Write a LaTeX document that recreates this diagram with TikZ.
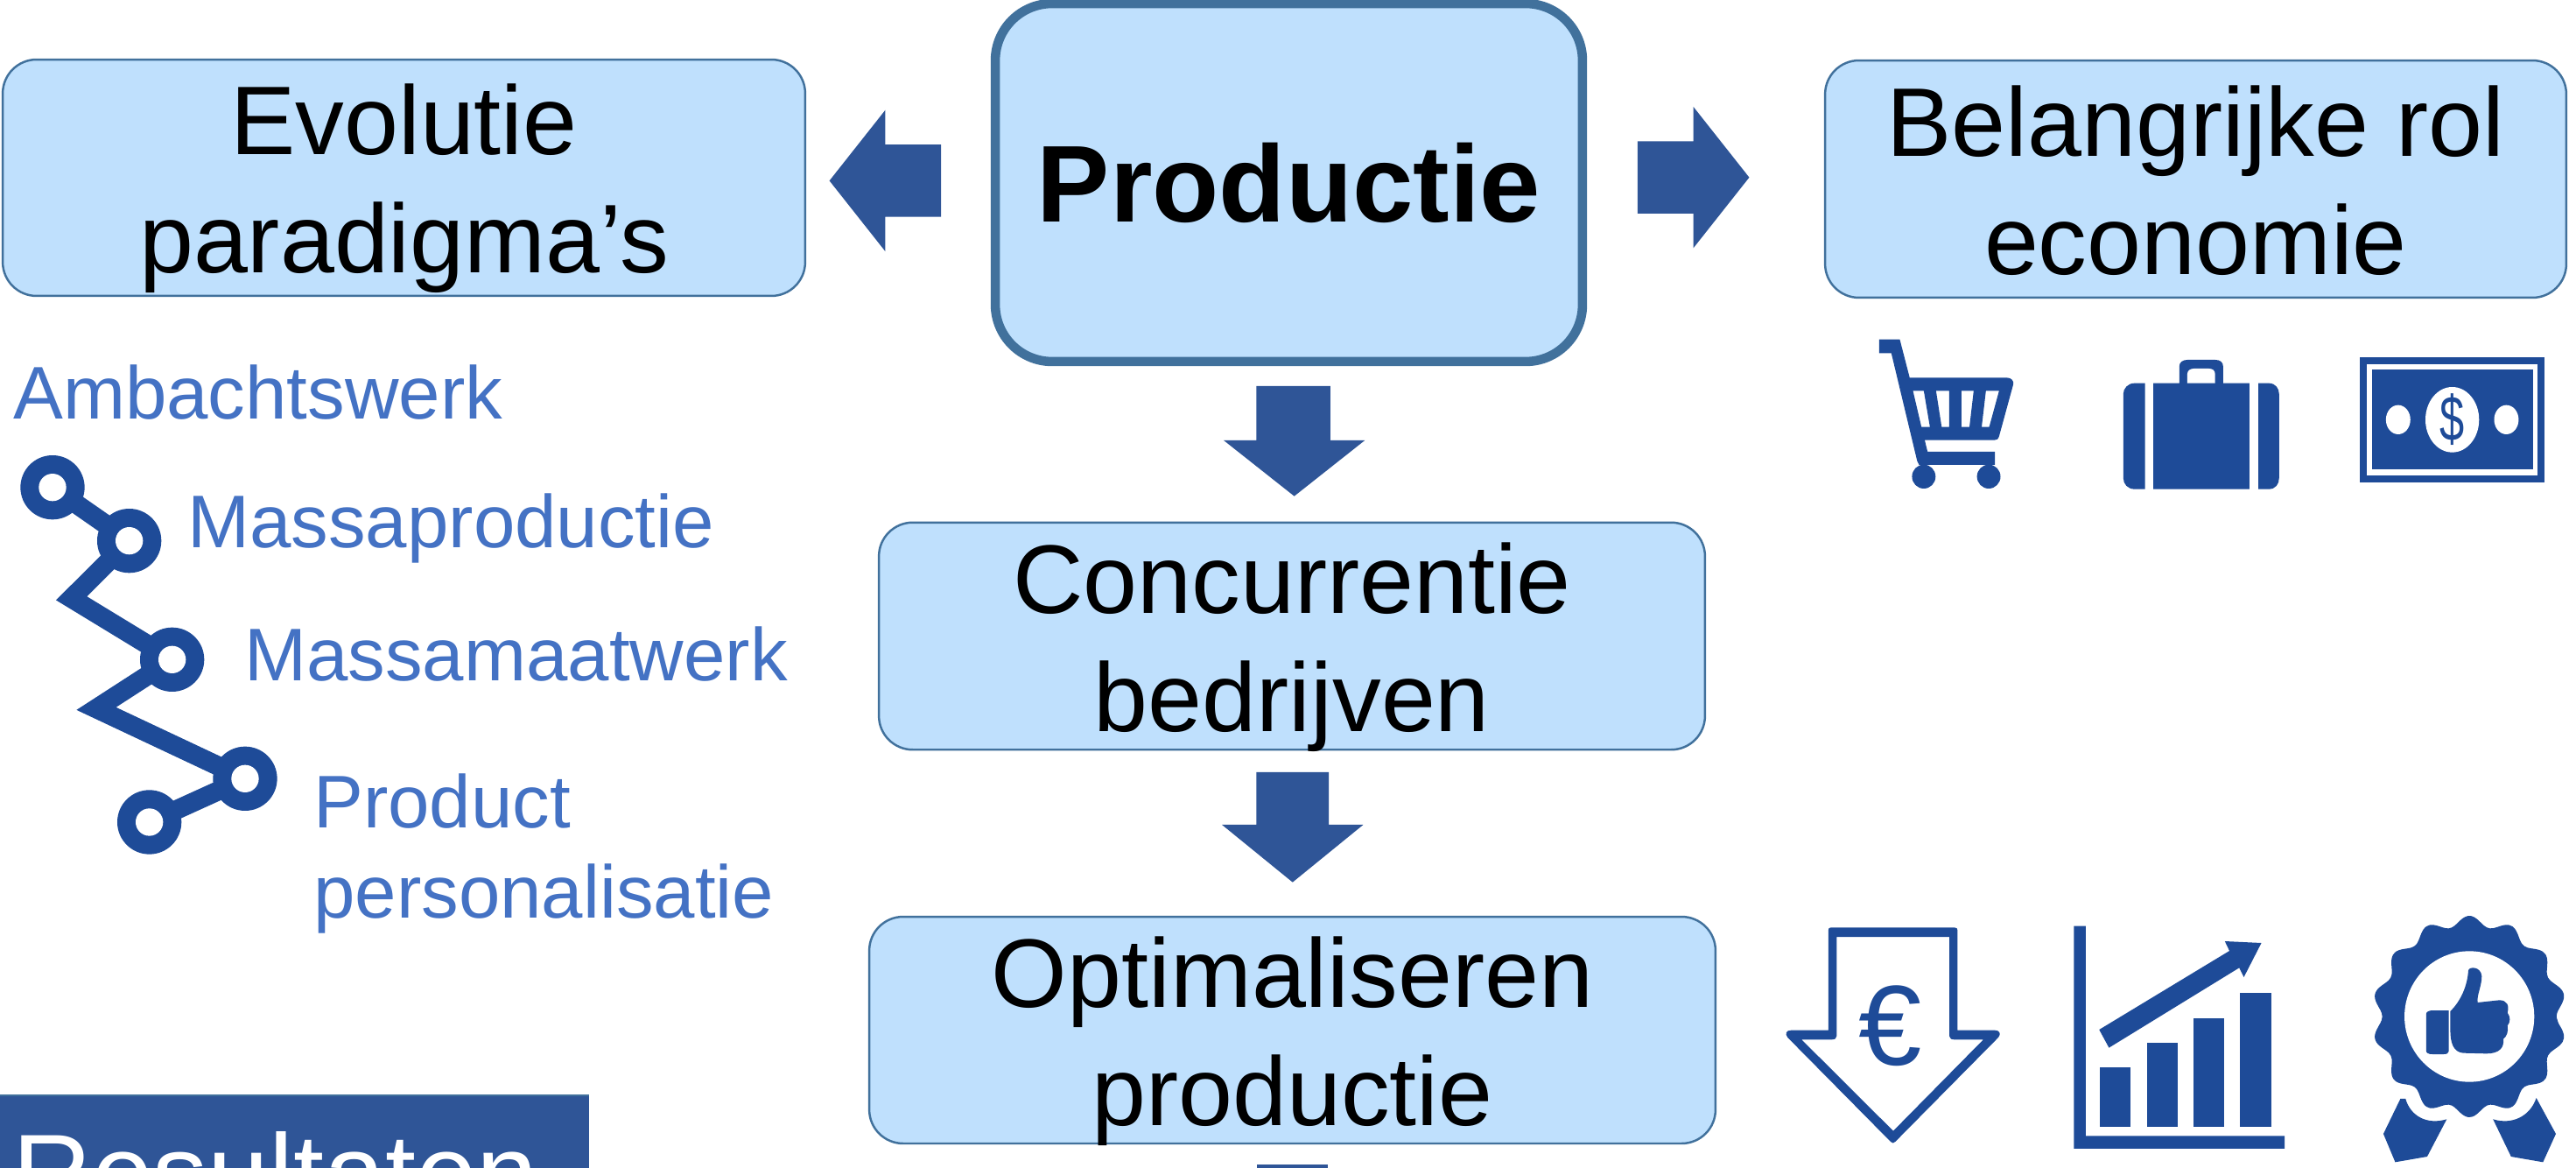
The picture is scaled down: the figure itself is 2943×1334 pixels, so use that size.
\documentclass[tikz,border=0pt]{standalone}
\usepackage{fontspec}
\setmainfont{Liberation Sans}
\definecolor{boxfill}{HTML}{BFE0FD}
\definecolor{boxline}{HTML}{41719C}
\definecolor{arrowblue}{HTML}{2F5597}
\definecolor{iconblue}{HTML}{1E4B98}
\definecolor{labelblue}{HTML}{4472C4}
\newcommand{\lineA}[1]{\rule{0pt}{54pt}\smash{#1}}
\newcommand{\lineB}[1]{\smash{#1}\rule[-6.8pt]{0pt}{6.8pt}}
\tikzset{
  boxnode/.style={draw=boxline,fill=boxfill,line width=1.4pt,rounded corners=22pt,inner sep=0pt,outer sep=0pt,align=center,
    text=black,font=\fontsize{63.4}{76.8}\selectfont},
  lab/.style={text=labelblue,anchor=base west,inner sep=0pt,font=\fontsize{48.5}{58}\selectfont},
  blockarrow/.style={fill=arrowblue,draw=none},
  icon/.style={fill=iconblue,draw=none},
  disp/.style={x=0.03754cm,y=-0.03754cm},
}
\begin{document}
\begin{tikzpicture}[x=0.02cm,y=-0.02cm]
\clip (0,0) rectangle (2943,1334);
\fill[white] (0,0) rectangle (2943,1334);

% boxes
\node[boxnode,minimum width=18.34cm,minimum height=5.4cm] (evol) at (461.5,203) {\lineA{Evolutie}\\\lineB{paradigma’s}};
\node[boxnode,line width=6pt,rounded corners=37pt,minimum width=13.42cm,minimum height=8.18cm,font=\fontsize{71}{80}\selectfont\bfseries] (prod) at (1472.5,208.5) {Productie};
\node[boxnode,minimum width=16.94cm,minimum height=5.42cm] (rol) at (2508.5,204.5) {\lineA{Belangrijke rol}\\\lineB{economie}};
\node[boxnode,minimum width=18.88cm,minimum height=5.19cm] (conc) at (1476,726.5) {\lineA{Concurrentie}\\\lineB{bedrijven}};
\node[boxnode,minimum width=19.34cm,minimum height=5.18cm] (opt) at (1476.5,1176.5) {\lineA{Optimaliseren}\\\lineB{productie}};

% bottom left banner
\fill[arrowblue] (0,1251) rectangle (673,1360);
\draw[boxline,line width=1.3pt] (0,1251) -- (673,1251);
\node[text=white,anchor=base west,inner sep=0pt,font=\fontsize{71.5}{80}\selectfont] (res) at (14,1383) {Resultaten};

% block arrows
\begin{scope}[disp]
\path[blockarrow] (505,110) -- (539,67) -- (539,88) -- (573,88) -- (573,132) -- (539,132) -- (539,153) -- cycle;
\path[blockarrow] (1065,108) -- (1031,65) -- (1031,86) -- (997,86) -- (997,130) -- (1031,130) -- (1031,151) -- cycle;
\path[blockarrow] (788,302) -- (745,268) -- (765,268) -- (765,235) -- (810,235) -- (810,268) -- (831,268) -- cycle;
\path[blockarrow] (787,537) -- (744,502) -- (765,502) -- (765,470) -- (809,470) -- (809,502) -- (830,502) -- cycle;
\end{scope}
\fill[arrowblue] (1436,1330) rectangle (1517,1340);

% labels
\node[lab] (l1) at (15,479) {Ambachtswerk};
\node[lab] (l2) at (214,625) {Massaproductie};
\node[lab] (l3) at (279,777) {Massamaatwerk};
\node[lab] (l4) at (358,945) {Product};
\node[lab] (l5) at (358,1048) {personalisatie};

% chain icon
\begin{scope}[shift={(0,520)},x=0.02cm/3,y=-0.02cm/3]
\draw[iconblue,line width=12.5pt,miter limit=10] (180,110) -- (443,293) -- (245,490) -- (590,700) -- (330,868) -- (840,1108) -- (512,1257);
\foreach \cx/\cy in {180/110,443/293,590/700,840/1108,512/1257}{
  \fill[iconblue] (\cx,\cy) circle[radius=110];
  \fill[white] (\cx,\cy) circle[radius=47];
}
\end{scope}

% cart, case, banknote
\begin{scope}[shift={(2100,370)},x=0.02cm/1.86,y=-0.02cm/3]
\path[icon,even odd rule] (87,53) -- (131,53) -- (152,184) -- (358,184) .. controls (368,184) and (374,195) .. (372,208) -- (342,385) .. controls (340,395) and (337,398) .. (332,398) -- (184,398) -- (190,438) -- (333,438) -- (333,483) -- (172,483) -- (168,470) -- (113,100) -- (87,100) -- cycle
  (159,229) -- (182,229) -- (195,353) -- (177,353) -- cycle
  (208,229) -- (236,229) -- (236,353) -- (220,353) -- cycle
  (262,229) -- (288,229) -- (279,353) -- (262,353) -- cycle
  (314,229) -- (342,229) -- (321,353) -- (305,353) -- cycle;
\fill[iconblue] (182,523) ellipse[x radius=25,y radius=41];
\fill[iconblue] (320,523) ellipse[x radius=25,y radius=41];
% case
\path[icon] (652,203) -- (630,203) .. controls (615,203) and (606,222) .. (606,240) -- (606,528) .. controls (606,548) and (615,566) .. (630,566) -- (652,566) -- cycle;
\path[icon] (893,203) -- (915,203) .. controls (930,203) and (937,222) .. (937,240) -- (937,528) .. controls (937,548) and (930,566) .. (915,566) -- (893,566) -- cycle;
\path[icon] (670,203) -- (725,203) -- (725,145) .. controls (725,132) and (732,123) .. (742,123) -- (802,123) .. controls (812,123) and (818,132) .. (818,145) -- (818,203) -- (874,203) -- (874,566) -- (670,566) -- cycle;
\path[fill=white] (742,203) -- (742,172) .. controls (742,160) and (748,153) .. (756,153) -- (788,153) .. controls (796,153) and (801,160) .. (801,172) -- (801,203) -- cycle;
% banknote
\fill[iconblue] (1109,113) rectangle (1501,544);
\fill[white] (1124,138) rectangle (1486,519);
\fill[iconblue] (1134,157) rectangle (1477,499);
\fill[white] (1305,328) ellipse[x radius=57,y radius=112];
\fill[white] (1190,328) ellipse[x radius=26,y radius=50];
\fill[white] (1420,328) ellipse[x radius=26,y radius=50];
\node[text=iconblue,inner sep=0pt,font=\fontsize{36}{40}\selectfont] (dollar) at (1305,328) {\scalebox{0.8}[1.15]{\$}};
\end{scope}

% price arrow, chart, badge
\begin{scope}[shift={(2020,1030)},x=0.02cm/1.70,y=-0.02cm/3]
\path[icon,even odd rule] (122,88) -- (362,88) .. controls (366,88) and (368,92) .. (368,98) -- (368,440) -- (440,440) .. controls (450,440) and (453,452) .. (447,465) -- (247,822) .. controls (244,828) and (241,828) .. (238,822) -- (38,465) .. controls (32,452) and (35,440) .. (45,440) -- (117,440) -- (117,98) .. controls (117,92) and (118,88) .. (122,88) -- cycle
 (133,120) -- (352,120) -- (352,460) .. controls (352,468) and (356,472) .. (362,472) -- (418,472) -- (243,785) -- (65,472) -- (123,472) .. controls (130,472) and (133,468) .. (133,460) -- cycle;
\node[text=iconblue,inner sep=0pt,font=\fontsize{74}{80}\selectfont] (euro) at (238,425) {€};
% chart
\path[icon] (594,83) -- (617,83) -- (617,802) -- (1003,802) -- (1003,846) -- (594,846) -- cycle;
\fill[iconblue] (645,567) rectangle (703,770);
\fill[iconblue] (736,482) rectangle (795,770);
\fill[iconblue] (827,398) rectangle (886,770);
\fill[iconblue] (917,313) rectangle (977,770);
\path[icon] (643,438) -- (896,168) -- (887,135) -- (958,141) -- (924,258) -- (915,226) -- (662,500) -- cycle;
% badge
\fill[iconblue] plot[smooth cycle,samples=169,domain=0:356] ({1362+188*(0.95+0.05*cos(14*(\x-90)))*cos(\x)},{393-345*(0.95+0.05*cos(14*(\x-90)))*sin(\x)});
\fill[white] (1362,393) ellipse[x radius=126,y radius=224];
\path[icon] (1278,385) .. controls (1278,376) and (1284,372) .. (1292,372) -- (1322,372) -- (1322,512) .. controls (1322,519) and (1318,522) .. (1312,522) -- (1290,522) .. controls (1283,522) and (1278,518) .. (1278,510) -- cycle;
\path[icon] (1325,375) .. controls (1345,340) and (1358,290) .. (1360,235) .. controls (1362,220) and (1385,222) .. (1386,255) .. controls (1386,290) and (1376,320) .. (1378,345) -- (1420,337) .. controls (1435,337) and (1440,355) .. (1436,380) .. controls (1442,395) and (1442,410) .. (1436,425) .. controls (1438,445) and (1435,460) .. (1428,470) .. controls (1430,500) and (1420,520) .. (1395,520) -- (1350,518) .. controls (1330,515) and (1325,480) .. (1325,440) -- cycle;
\path[icon] (1228,675) -- (1238,675) .. controls (1248,735) and (1280,765) .. (1318,745) -- (1280,873) -- (1218,892) -- (1195,795) -- cycle;
\path[icon] (1492,672) -- (1530,795) -- (1505,892) -- (1443,873) -- (1408,745) .. controls (1445,765) and (1480,735) .. (1492,672) -- cycle;
\end{scope}
\end{tikzpicture}
\end{document}
